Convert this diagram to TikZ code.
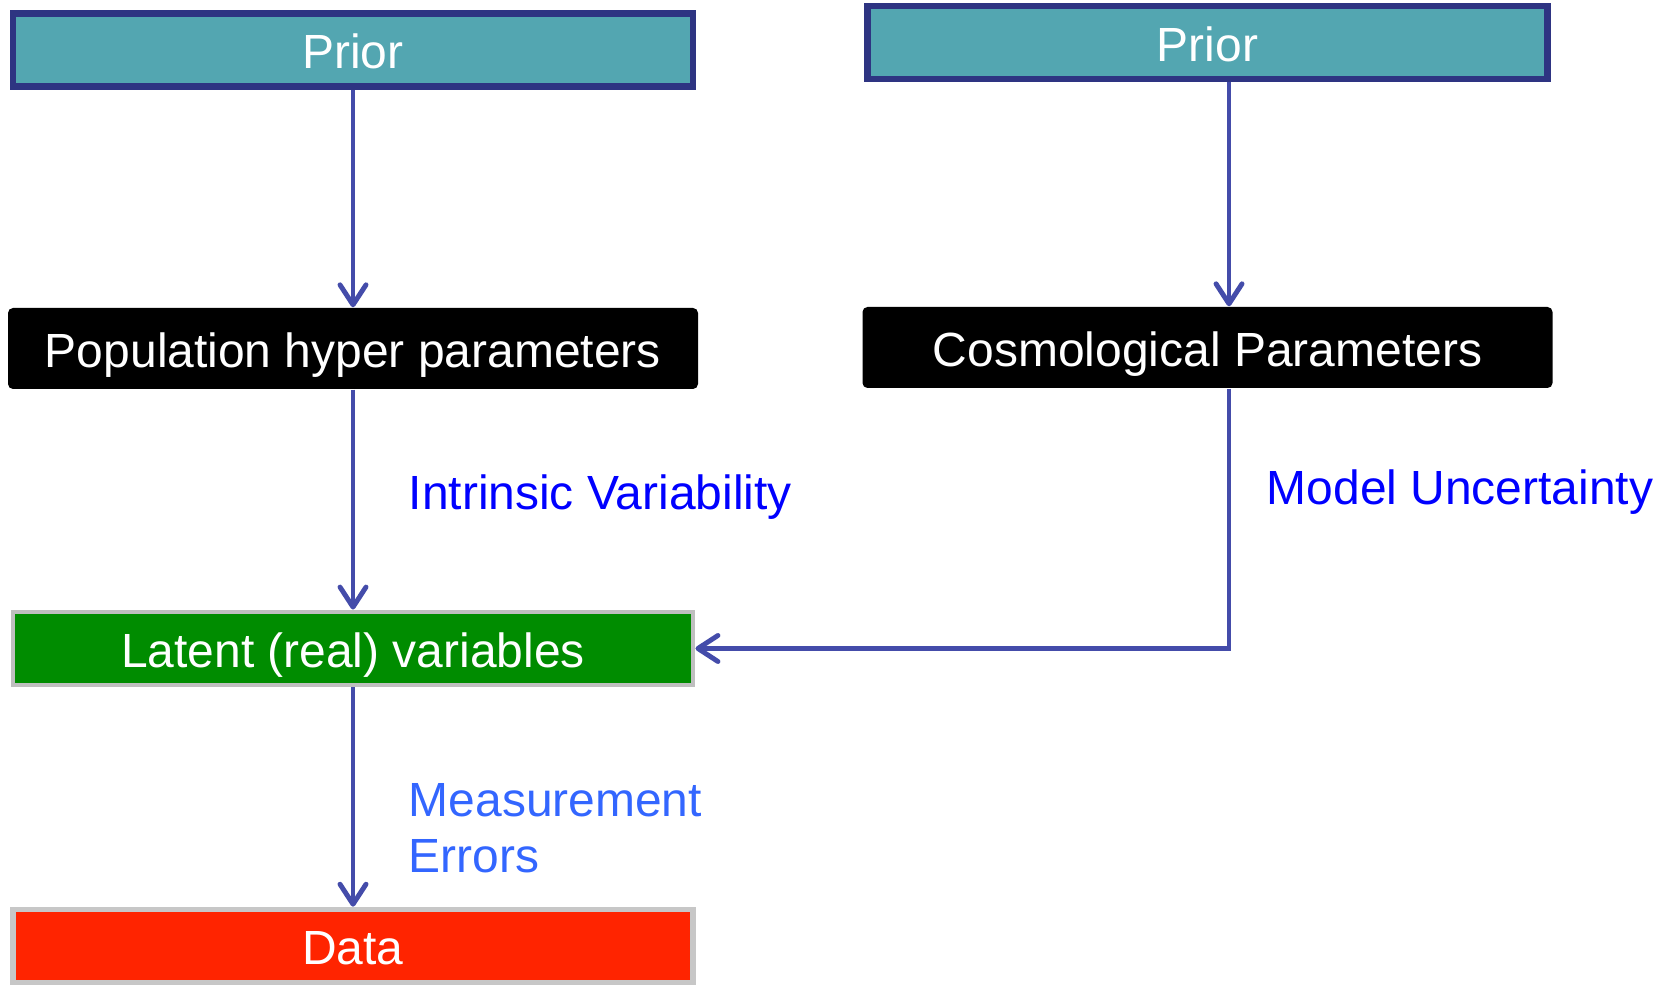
\documentclass[tikz,border=0pt]{standalone}
\usepackage{fontspec}
\setmainfont{Liberation Sans}
\usetikzlibrary{positioning,arrows.meta}

\definecolor{priorfill}{RGB}{83,166,177}
\definecolor{priordraw}{RGB}{46,52,130}
\definecolor{linkblue}{RGB}{68,76,170}
\definecolor{latentfill}{RGB}{0,140,0}
\definecolor{datafill}{RGB}{255,36,0}
\definecolor{measblue}{RGB}{51,102,255}

\tikzset{
  box/.style={minimum width=6.8cm, minimum height=0.73cm, inner sep=0pt, text=white,
    text height=10.6pt, text depth=0pt, font=\fontsize{13.65}{16}\selectfont},
  priorbox/.style={box, fill=priorfill, draw=priordraw, line width=1.8pt},
  blackbox/.style={box, fill=black, rounded corners=0.5mm, minimum width=6.9cm, minimum height=0.81cm},
  latentbox/.style={box, fill=latentfill, draw=black!25, line width=1.4pt},
  databox/.style={box, fill=datafill, draw=black!22, line width=1.6pt},
  link/.style={draw=linkblue, line width=1.4pt, -{Straight Barb[length=2mm,width=2.6mm,round]}},
  lbl/.style={anchor=west, inner sep=0pt, font=\fontsize{13.65}{15.9}\selectfont},
}

\begin{document}
\begin{tikzpicture}
  \useasboundingbox (0,0) rectangle (16.58,9.85);
  % ---- left chain ----
  \node[priorbox] (leftprior) at (3.53,9.35) {Prior};
  \node[blackbox] (hyper) at (3.53,6.365) {Population hyper parameters};
  \node[latentbox] (latent) at (3.53,3.365) {Latent (real) variables};
  \node[databox] (data) at (3.53,0.39) {Data};
  % ---- right chain ----
  \node[priorbox] (rightprior) at (12.075,9.425) {Prior};
  \node[blackbox] (cosmo) at (12.075,6.375) {Cosmological Parameters};
  % ---- arrows ----
  \draw[link] (leftprior) -- (hyper);
  \draw[link] (hyper) -- (latent);
  \draw[link] (latent) -- (data);
  \draw[link] ([xshift=2.15mm]rightprior.south) -- ([xshift=2.15mm]cosmo.north);
  \draw[link] ([xshift=2.15mm]cosmo.south) |- (latent.east);
  % ---- labels ----
  \node[lbl, text=blue] (intrinsic) at (4.08,4.88) {Intrinsic Variability};
  \node[lbl, text=blue] (model) at (12.66,4.93) {Model Uncertainty};
  \node[lbl, text=measblue, align=left] (meas) at (4.08,1.57) {Measurement\\Errors};
\end{tikzpicture}
\end{document}
